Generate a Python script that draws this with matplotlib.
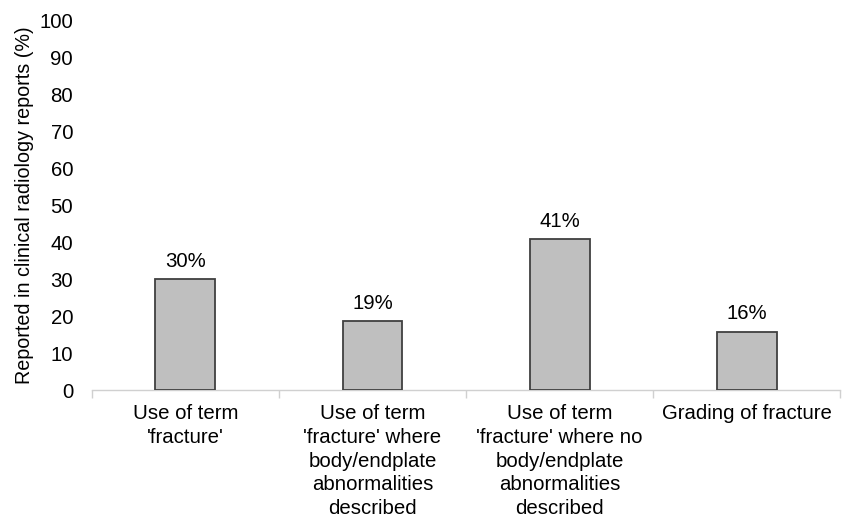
import numpy as np
import matplotlib.pyplot as plt

plt.rcParams['font.family'] = ['Liberation Sans', 'DejaVu Sans']

categories = [
    "Use of term\n'fracture'",
    "Use of term\n'fracture' where\nbody/endplate\nabnormalities\ndescribed",
    "Use of term\n'fracture' where no\nbody/endplate\nabnormalities\ndescribed",
    "Grading of fracture",
]
values = [30.0, 18.6, 40.9, 15.8]
value_labels = ['30%', '19%', '41%', '16%']
yticks = list(range(0, 101, 10))

fig = plt.figure(figsize=(8.42, 5.18), dpi=100)
ax = fig.add_axes([0.109, 0.247, 0.889, 0.714])

x = np.arange(len(categories))
bars = ax.bar(x, values, width=0.32, color='#bfbfbf', edgecolor='#404040', linewidth=1.3, zorder=3)
for b, lab in zip(bars, value_labels):
    ax.text(b.get_x() + b.get_width() / 2, b.get_height() + 2.2, lab,
            ha='center', va='bottom', fontsize=14.7)

ax.set_xlim(-0.5, len(categories) - 0.5)
ax.set_ylim(0, 100)
ax.set_yticks(yticks)
ax.set_xticks(x)
ax.set_xticklabels(categories, fontsize=14.7, linespacing=1.32)
ax.set_xticks(np.arange(-0.5, len(categories)), minor=True)
ax.tick_params(axis='x', which='major', length=0, pad=10)
ax.tick_params(axis='x', which='minor', length=6, color='#d0d0d0', width=1)
ax.tick_params(axis='y', length=0, labelsize=14.7, pad=13.5)

for s in ['left', 'right', 'top']:
    ax.spines[s].set_visible(False)
ax.spines['bottom'].set_color('#d0d0d0')
ax.spines['bottom'].set_linewidth(1)

ax.set_ylabel('Reported in clinical radiology reports (%)', fontsize=14.2, labelpad=4)

fig.savefig('out.png', dpi=100)
